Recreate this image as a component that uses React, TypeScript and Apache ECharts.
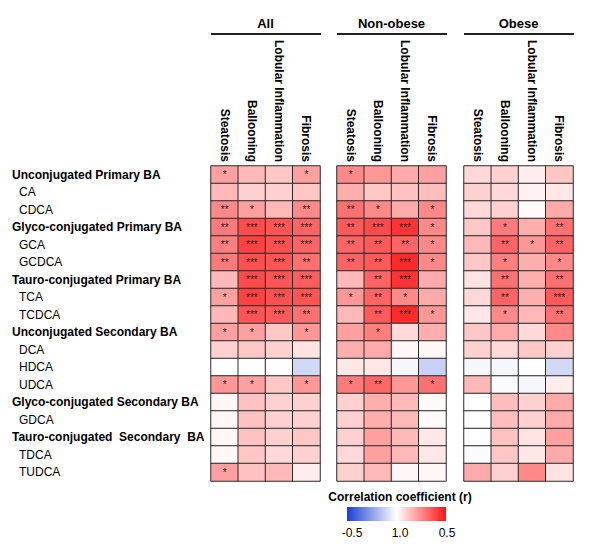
import React, { useEffect, useRef } from "react";
import * as echarts from "echarts";

const panelTitles = ["All", "Non-obese", "Obese"];
const columns = ["Steatosis", "Ballooning", "Lobular Inflammation", "Fibrosis"];
const rowLabels = [
  "Unconjugated Primary BA",
  "CA",
  "CDCA",
  "Glyco-conjugated Primary BA",
  "GCA",
  "GCDCA",
  "Tauro-conjugated Primary BA",
  "TCA",
  "TCDCA",
  "Unconjugated Secondary BA",
  "DCA",
  "HDCA",
  "UDCA",
  "Glyco-conjugated Secondary BA",
  "GDCA",
  "Tauro-conjugated  Secondary  BA",
  "TDCA",
  "TUDCA",
];
const groupRows = [0, 3, 6, 9, 13, 15];

const allR = [
  [0.2, 0.15, 0.12, 0.2],
  [0.15, 0.1, 0.1, 0.12],
  [0.25, 0.2, 0.15, 0.25],
  [0.28, 0.38, 0.36, 0.33],
  [0.27, 0.4, 0.37, 0.33],
  [0.28, 0.37, 0.36, 0.3],
  [0.15, 0.38, 0.36, 0.34],
  [0.2, 0.4, 0.37, 0.36],
  [0.15, 0.36, 0.35, 0.3],
  [0.2, 0.2, 0.12, 0.22],
  [0.1, 0.12, 0.1, 0.06],
  [0.0, 0.0, 0.0, -0.1],
  [0.22, 0.2, 0.12, 0.22],
  [0.02, 0.13, 0.1, 0.1],
  [0.02, 0.13, 0.1, 0.1],
  [0.02, 0.13, 0.1, 0.12],
  [0.02, 0.12, 0.08, 0.1],
  [0.2, 0.13, 0.15, 0.04],
];
const allStars = [
  ["*", "", "", "*"],
  ["", "", "", ""],
  ["**", "*", "", "**"],
  ["**", "***", "***", "***"],
  ["**", "***", "***", "***"],
  ["**", "***", "***", "**"],
  ["", "***", "***", "***"],
  ["*", "***", "***", "***"],
  ["", "***", "***", "**"],
  ["*", "*", "", "*"],
  ["", "", "", ""],
  ["", "", "", ""],
  ["*", "*", "", "*"],
  ["", "", "", ""],
  ["", "", "", ""],
  ["", "", "", ""],
  ["", "", "", ""],
  ["*", "", "", ""],
];

const nonObeseR = [
  [0.25, 0.22, 0.18, 0.2],
  [0.17, 0.12, 0.13, 0.14],
  [0.3, 0.25, 0.18, 0.25],
  [0.35, 0.38, 0.43, 0.25],
  [0.33, 0.35, 0.33, 0.25],
  [0.33, 0.35, 0.45, 0.25],
  [0.15, 0.33, 0.43, 0.18],
  [0.22, 0.33, 0.25, 0.18],
  [0.15, 0.35, 0.45, 0.22],
  [0.2, 0.27, 0.08, 0.17],
  [0.17, 0.18, 0.02, 0.02],
  [0.05, 0.05, -0.02, -0.12],
  [0.28, 0.32, 0.22, 0.3],
  [0.1, 0.17, 0.15, 0.01],
  [0.1, 0.17, 0.15, 0.01],
  [0.1, 0.2, 0.15, 0.05],
  [0.08, 0.2, 0.15, 0.05],
  [0.1, 0.15, 0.02, 0.02],
];
const nonObeseStars = [
  ["*", "", "", ""],
  ["", "", "", ""],
  ["**", "*", "", "*"],
  ["**", "***", "***", "*"],
  ["**", "**", "**", "*"],
  ["**", "**", "***", "*"],
  ["", "**", "***", ""],
  ["*", "**", "*", ""],
  ["", "**", "***", "*"],
  ["", "*", "", ""],
  ["", "", "", ""],
  ["", "", "", ""],
  ["*", "**", "", "*"],
  ["", "", "", ""],
  ["", "", "", ""],
  ["", "", "", ""],
  ["", "", "", ""],
  ["", "", "", ""],
];

const obeseR = [
  [0.08, 0.1, 0.04, 0.12],
  [0.1, 0.08, 0.03, 0.05],
  [0.08, 0.1, 0.01, 0.18],
  [0.12, 0.28, 0.17, 0.3],
  [0.15, 0.33, 0.22, 0.33],
  [0.12, 0.27, 0.17, 0.25],
  [0.06, 0.3, 0.17, 0.3],
  [0.08, 0.33, 0.17, 0.35],
  [0.05, 0.25, 0.15, 0.3],
  [0.12, 0.18, 0.08, 0.25],
  [0.1, 0.08, 0.12, 0.1],
  [-0.02, -0.02, 0.0, -0.1],
  [0.15, -0.01, -0.02, 0.04],
  [0.0, 0.14, 0.1, 0.18],
  [0.0, 0.14, 0.1, 0.18],
  [0.0, 0.13, 0.06, 0.2],
  [-0.01, 0.12, 0.05, 0.18],
  [0.18, 0.1, 0.25, 0.06],
];
const obeseStars = [
  ["", "", "", ""],
  ["", "", "", ""],
  ["", "", "", ""],
  ["", "*", "", "**"],
  ["", "**", "*", "**"],
  ["", "*", "", "*"],
  ["", "**", "", "**"],
  ["", "**", "", "***"],
  ["", "*", "", "**"],
  ["", "", "", ""],
  ["", "", "", ""],
  ["", "", "", ""],
  ["", "", "", ""],
  ["", "", "", ""],
  ["", "", "", ""],
  ["", "", "", ""],
  ["", "", "", ""],
  ["", "", "", ""],
];

const legendTitle = "Correlation coefficient (r)";
const legendTicks = ["-0.5", "1.0", "0.5"];

const panelValues = [allR, nonObeseR, obeseR];
const panelStars = [allStars, nonObeseStars, obeseStars];

const FONT = "'Liberation Sans', Arial, Helvetica, sans-serif";
const BLUE = "#1b3fd4";
const RED = "#ff1212";

export default function App() {
  const ref = useRef<HTMLDivElement>(null);

  useEffect(() => {
    if (!ref.current) return;
    const chart = echarts.init(ref.current, null, { renderer: "svg" });

    const gridLefts = [211, 337, 464];
    const gridWidth = 109;
    const gridTop = 166;
    const gridHeight = 315;

    const grids = gridLefts.map((l) => ({
      left: l,
      top: gridTop,
      width: gridWidth,
      height: gridHeight,
    }));

    const xAxes = gridLefts.map((_, i) => ({
      type: "category",
      gridIndex: i,
      data: columns,
      position: "top",
      axisLine: { show: false },
      axisTick: { show: false },
      splitLine: { show: false },
      axisLabel: {
        rotate: 90,
        margin: 4,
        fontSize: 12,
        fontWeight: "bold",
        color: "#000",
        fontFamily: FONT,
        interval: 0,
      },
    }));

    const yAxes = gridLefts.map((_, i) => ({
      type: "category",
      gridIndex: i,
      data: rowLabels,
      inverse: true,
      axisLine: { show: false },
      axisTick: { show: false },
      splitLine: { show: false },
      axisLabel:
        i === 0
          ? {
              show: true,
              interval: 0,
              align: "left",
              margin: 199,
              color: "#000",
              fontFamily: FONT,
              fontSize: 12,
              formatter: (val: string, idx: number) =>
                groupRows.includes(idx) ? `{g|${val}}` : `{n|${val}}`,
              rich: {
                g: { fontWeight: "bold", fontSize: 12, color: "#000", fontFamily: FONT },
                n: { fontSize: 12, color: "#000", fontFamily: FONT, padding: [0, 0, 0, 7] },
              },
            }
          : { show: false },
    }));

    const series = panelValues.map((vals, p) => {
      const data: number[][] = [];
      vals.forEach((row, r) => row.forEach((v, c) => data.push([c, r, v])));
      return {
        type: "heatmap",
        xAxisIndex: p,
        yAxisIndex: p,
        data,
        itemStyle: { borderColor: "#2a2a2a", borderWidth: 1 },
        label: {
          show: true,
          fontSize: 10,
          color: "#222",
          fontFamily: FONT,
          formatter: (prm: any) => panelStars[p][prm.data[1]][prm.data[0]],
        },
        emphasis: { disabled: true },
      };
    });

    const graphics: any[] = [];
    gridLefts.forEach((l, i) => {
      graphics.push({
        type: "text",
        x: l + gridWidth / 2,
        y: 23,
        style: {
          text: panelTitles[i],
          fontSize: 13,
          fontWeight: "bold",
          fontFamily: FONT,
          fill: "#000",
          align: "center",
          verticalAlign: "middle",
        },
      });
      graphics.push({
        type: "line",
        shape: { x1: l, y1: 34, x2: l + gridWidth + 1, y2: 34 },
        style: { stroke: "#222", lineWidth: 2 },
      });
    });
    graphics.push({
      type: "text",
      x: 400,
      y: 497,
      style: {
        text: legendTitle,
        fontSize: 12,
        fontWeight: "bold",
        fontFamily: FONT,
        fill: "#000",
        align: "center",
        verticalAlign: "middle",
      },
    });
    graphics.push({
      type: "rect",
      shape: { x: 347, y: 507, width: 99, height: 14 },
      style: {
        fill: {
          type: "linear",
          x: 0,
          y: 0,
          x2: 1,
          y2: 0,
          colorStops: [
            { offset: 0, color: BLUE },
            { offset: 0.5, color: "#ffffff" },
            { offset: 1, color: RED },
          ],
        },
      },
    });
    [352, 400, 447].forEach((x, i) => {
      graphics.push({
        type: "text",
        x,
        y: 533,
        style: {
          text: legendTicks[i],
          fontSize: 12,
          fontFamily: FONT,
          fill: "#000",
          align: "center",
          verticalAlign: "middle",
        },
      });
    });

    chart.setOption({
      animation: false,
      backgroundColor: "#ffffff",
      grid: grids,
      xAxis: xAxes,
      yAxis: yAxes,
      visualMap: {
        type: "continuous",
        show: false,
        min: -0.5,
        max: 0.5,
        dimension: 2,
        seriesIndex: [0, 1, 2],
        inRange: { color: [BLUE, "#ffffff", RED] },
      },
      series,
      graphic: graphics,
    } as any);

    return () => chart.dispose();
  }, []);

  return (
    <div
      ref={ref}
      style={{ position: "fixed", left: 0, top: 0, width: 602, height: 547 }}
    />
  );
}
